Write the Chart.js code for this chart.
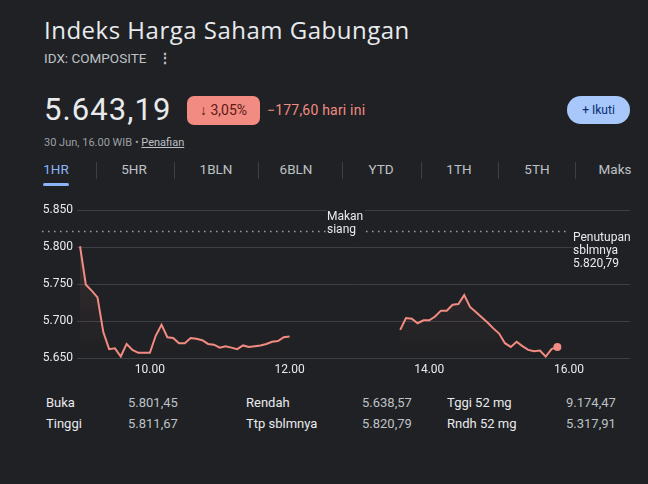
<!DOCTYPE html>
<html>
<head>
<meta charset="utf-8">
<script src="https://cdn.jsdelivr.net/npm/chart.js@4"></script>
<style>
  body { margin:0; width:648px; height:484px; overflow:hidden; background:#202124;
         font-family: Roboto, Arial, sans-serif; color:#e8eaed; position:relative; }
  .a { position:absolute; white-space:nowrap; line-height:1; }
  #judul { left:44px; top:18px; font-family:"Open Sans", Roboto, sans-serif; font-size:24px; letter-spacing:0.5px; color:#e8eaed; }
  #kode { left:44px; top:52px; font-size:13.5px; color:#bdc1c6; }
  #menu { left:158px; top:51px; font-size:14px; color:#bdc1c6; font-weight:bold; }
  #harga { left:44px; top:94px; font-size:31px; letter-spacing:1.1px; color:#e8eaed; }
  #lencana { left:187px; top:96px; width:73px; height:29px; border-radius:7px; background:#f28b82;
             color:#5c1a15; font-size:14px; line-height:29px; text-align:center; }
  #selisih { left:267px; top:103px; font-size:14px; letter-spacing:0.2px; color:#f28b82; }
  #ikuti { left:567px; top:96px; width:63px; height:28px; border-radius:14px; background:#a8c7fa;
           color:#062e6f; font-size:12px; line-height:28px; text-align:center; }
  #waktu { left:44px; top:137px; font-size:11px; color:#9aa0a6; }
  #waktu u { color:#bdc1c6; }
  .tab { top:163px; font-size:13.5px; color:#bdc1c6; transform:translateX(-50%); }
  .tab.aktif { color:#8ab4f8; }
  .sekat { top:162px; width:1px; height:17px; background:#3c4043; }
  #garisTab { left:43px; top:183px; width:26px; height:3px; border-radius:2px; background:#8ab4f8; }
  #wadah { position:absolute; left:0; top:195px; width:648px; height:185px; }
  .catatan { font-size:12px; line-height:13px; color:#e8eaed; background:#202124; }
  .stat { font-size:13px; }
  .lbl { color:#e8eaed; }
  .nil { color:#bdc1c6; }
</style>
</head>
<body>
<div class="a" id="judul">Indeks Harga Saham Gabungan</div>
<div class="a" id="kode">IDX: COMPOSITE</div>
<div class="a" id="menu">⋮</div>
<div class="a" id="harga">5.643,19</div>
<div class="a" id="lencana">↓ 3,05%</div>
<div class="a" id="selisih">−177,60 hari ini</div>
<div class="a" id="ikuti">+ Ikuti</div>
<div class="a" id="waktu">30 Jun, 16.00 WIB • <u>Penafian</u></div>
<div id="tabs"></div>
<div class="a" id="garisTab"></div>

<div id="wadah"><canvas id="grafik" width="648" height="185"></canvas></div>

<div class="a catatan" style="left:327px; top:210px; padding-right:2px;">Makan<br>siang</div>
<div class="a catatan" style="left:573px; top:231px;">Penutupan<br>sblmnya<br>5.820,79</div>

<div id="statistik"></div>

<script>
// data (interval 5 menit)
const sesi1Waktu = ['09:00','09:05','09:10','09:15','09:20','09:25','09:30','09:35','09:40','09:45',
  '09:50','09:55','10:00','10:05','10:10','10:15','10:20','10:25','10:30','10:35','10:40','10:45',
  '10:50','10:55','11:00','11:05','11:10','11:15','11:20','11:25','11:30','11:35','11:40','11:45',
  '11:50','11:55','12:00'];
const sesi1Nilai = [5801, 5749, 5741, 5732, 5685, 5662, 5663, 5652, 5669, 5661,
  5657, 5657, 5657, 5680, 5695, 5678, 5677, 5670, 5670, 5677, 5676, 5674,
  5669, 5668, 5664, 5666, 5664, 5662, 5667, 5665, 5666, 5667, 5669, 5672,
  5673, 5678, 5679];

const sesi2Waktu = ['13:35','13:40','13:45','13:50','13:55','14:00','14:05','14:10','14:15','14:20',
  '14:25','14:30','14:35','14:40','14:45','14:50','14:55','15:00','15:05','15:10','15:15','15:20',
  '15:25','15:30','15:35','15:40','15:45','15:50'];
const sesi2Nilai = [5688, 5704, 5703, 5697, 5701, 5701, 5706, 5714, 5714, 5722,
  5723, 5735, 5719, 5712, 5705, 5698, 5690, 5683, 5670, 5665, 5672, 5666,
  5661, 5659, 5660, 5652, 5662, 5665];

const tutupSebelumnya = 5820.79;
const labelSumbuX = ['10.00', '12.00', '14.00', '16.00'];
const nilaiSumbuY = [5650, 5700, 5750, 5800, 5850];

const namaTab = ['1HR', '5HR', '1BLN', '6BLN', 'YTD', '1TH', '5TH', 'Maks'];
const statLabel1 = ['Buka', 'Tinggi'];
const statNilai1 = ['5.801,45', '5.811,67'];
const statLabel2 = ['Rendah', 'Ttp sblmnya'];
const statNilai2 = ['5.638,57', '5.820,79'];
const statLabel3 = ['Tggi 52 mg', 'Rndh 52 mg'];
const statNilai3 = ['9.174,47', '5.317,91'];

// tab periode
const tabX = [56, 134, 216, 296, 381, 459, 537, 615];
const sekatX = [96, 174, 258, 342, 421, 498, 575];
let html = '';
namaTab.forEach(function(t, i) {
  html += '<div class="a tab' + (i === 0 ? ' aktif' : '') + '" style="left:' + tabX[i] + 'px">' + t + '</div>';
});
sekatX.forEach(function(x) { html += '<div class="a sekat" style="left:' + x + 'px"></div>'; });
document.getElementById('tabs').innerHTML = html;

// tabel statistik
const kolom = [
  {lx: 46, nx: 128, l: statLabel1, n: statNilai1},
  {lx: 246, nx: 362, l: statLabel2, n: statNilai2},
  {lx: 447, nx: 566, l: statLabel3, n: statNilai3}
];
const barisY = [396, 417];
html = '';
kolom.forEach(function(k) {
  k.l.forEach(function(lab, r) {
    html += '<div class="a stat lbl" style="left:' + k.lx + 'px;top:' + barisY[r] + 'px">' + lab + '</div>';
    html += '<div class="a stat nil" style="left:' + k.nx + 'px;top:' + barisY[r] + 'px">' + k.n[r] + '</div>';
  });
});
document.getElementById('statistik').innerHTML = html;

function keMenit(w) {
  const p = w.split(/[:.]/);
  return parseInt(p[0]) * 60 + parseInt(p[1]);
}
function fmtRibuan(v) {
  return String(v).replace(/\B(?=(\d{3})+(?!\d))/g, '.');
}

const titik1 = sesi1Waktu.map(function(w, i) { return {x: keMenit(w), y: sesi1Nilai[i]}; });
const titik2 = sesi2Waktu.map(function(w, i) { return {x: keMenit(w), y: sesi2Nilai[i]}; });

function isian(ctx) {
  const a = ctx.chart.chartArea;
  if (!a) return 'rgba(0,0,0,0)';
  const g = ctx.chart.ctx.createLinearGradient(0, a.top, 0, a.bottom);
  g.addColorStop(0, 'rgba(242,139,130,0.24)');
  g.addColorStop(0.55, 'rgba(242,139,130,0.06)');
  g.addColorStop(1, 'rgba(242,139,130,0)');
  return g;
}

// garis titik penutupan sebelumnya
const garisTutup = {
  id: 'garisTutup',
  beforeDatasetsDraw: function(chart) {
    const y = chart.scales.y.getPixelForValue(tutupSebelumnya);
    const c = chart.ctx;
    c.save();
    c.strokeStyle = '#9aa0a6';
    c.lineWidth = 1.5;
    c.setLineDash([1.5, 4.5]);
    c.beginPath();
    c.moveTo(42, y);
    c.lineTo(569, y);
    c.stroke();
    c.restore();
  }
};

Chart.defaults.font.family = 'Roboto, Arial, sans-serif';

const gaya = {
  borderColor: '#f28b82',
  borderWidth: 2,
  tension: 0,
  fill: 'start',
  backgroundColor: isian,
  pointBackgroundColor: '#f28b82',
  pointBorderWidth: 0
};

new Chart(document.getElementById('grafik').getContext('2d'), {
  type: 'line',
  data: {
    datasets: [
      Object.assign({data: titik1, pointRadius: 0}, gaya),
      Object.assign({data: titik2, pointRadius: function(ctx) {
        return ctx.dataIndex === titik2.length - 1 ? 4 : 0;
      }}, gaya)
    ]
  },
  options: {
    responsive: false,
    devicePixelRatio: 1,
    animation: false,
    layout: {padding: {top: 15, right: 18, left: 0, bottom: 0}},
    plugins: {legend: {display: false}, tooltip: {enabled: false}},
    scales: {
      x: {
        type: 'linear',
        min: 537.4,
        max: 1012.4,
        grid: {display: false, drawTicks: false},
        border: {display: false},
        afterBuildTicks: function(s) {
          s.ticks = labelSumbuX.map(function(t) { return {value: keMenit(t)}; });
        },
        afterFit: function(s) { s.height = 22; },
        ticks: {
          color: '#e8eaed', font: {size: 12}, padding: 5, maxRotation: 0,
          callback: function(v) {
            const i = labelSumbuX.findIndex(function(t) { return keMenit(t) === v; });
            return i >= 0 ? labelSumbuX[i] : '';
          }
        }
      },
      y: {
        min: 5650,
        max: 5850,
        border: {display: false},
        grid: {color: '#3c4043', drawTicks: false, lineWidth: 1},
        afterBuildTicks: function(s) {
          s.ticks = nilaiSumbuY.map(function(v) { return {value: v}; });
        },
        afterFit: function(s) { s.width = 77; },
        ticks: {
          color: '#e8eaed', font: {size: 12}, padding: 4,
          callback: function(v) { return fmtRibuan(v); }
        }
      }
    }
  },
  plugins: [garisTutup]
});
</script>
</body>
</html>
